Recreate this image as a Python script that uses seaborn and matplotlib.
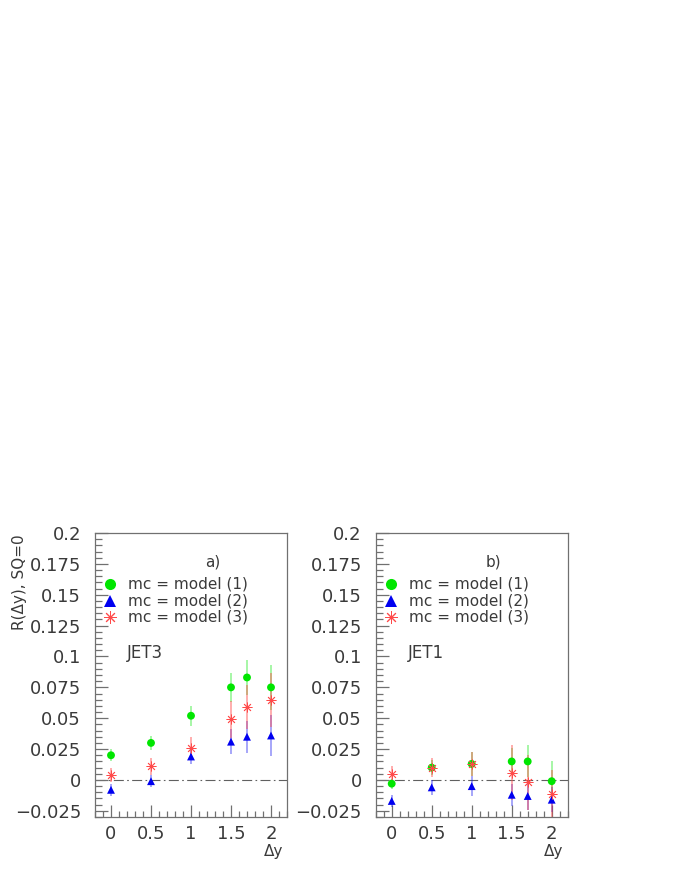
import numpy as np
import pandas as pd
import matplotlib
matplotlib.use('Agg')
import matplotlib.pyplot as plt
from matplotlib.ticker import FixedLocator, MultipleLocator
import seaborn as sns

# delta-y bins
dy = [0, 0.5, 1, 1.5, 1.7, 2]

# JET3 (panel a)
jet3_m1 = [0.020, 0.030, 0.052, 0.075, 0.083, 0.075]
jet3_m1_err = [0.005, 0.006, 0.008, 0.012, 0.014, 0.018]
jet3_m2 = [-0.008, -0.001, 0.019, 0.031, 0.035, 0.036]
jet3_m2_err = [0.005, 0.005, 0.006, 0.010, 0.013, 0.017]
jet3_m3 = [0.004, 0.011, 0.026, 0.049, 0.059, 0.065]
jet3_m3_err = [0.006, 0.007, 0.009, 0.015, 0.018, 0.022]

# JET1 (panel b)
jet1_m1 = [-0.003, 0.010, 0.013, 0.015, 0.015, -0.001]
jet1_m1_err = [0.004, 0.006, 0.010, 0.011, 0.013, 0.016]
jet1_m2 = [-0.017, -0.006, -0.005, -0.012, -0.013, -0.016]
jet1_m2_err = [0.005, 0.006, 0.008, 0.009, 0.011, 0.010]
jet1_m3 = [0.005, 0.010, 0.013, 0.006, -0.002, -0.011]
jet1_m3_err = [0.006, 0.008, 0.010, 0.022, 0.022, 0.019]

labels = ['mc = model (1)', 'mc = model (2)', 'mc = model (3)']
ytick_vals = [-0.025, 0, 0.025, 0.05, 0.075, 0.1, 0.125, 0.15, 0.175, 0.2]
ytick_labels = ['\u22120.025', '0', '0.025', '0.05', '0.075', '0.1', '0.125', '0.15', '0.175', '0.2']
xtick_vals = [0, 0.5, 1, 1.5, 2]
xtick_labels = ['0', '0.5', '1', '1.5', '2']

colors = ['#00e600', '#0000f0', '#ff4a4a']
markers = ['o', '^', (8, 2, 0)]
sizes = [32, 32, 44]
err_alpha = [0.35, 0.35, 0.45]
text_col = '#3a3a3a'


def make_frame(vals, errs):
    rows = []
    for lab, v, e in zip(labels, vals, errs):
        for x, y, err in zip(dy, v, e):
            rows.append({'dy': x, 'R': y, 'err': err, 'mc': lab})
    return pd.DataFrame(rows)


sns.set_theme(style='white')
plt.rcParams['font.family'] = ['DejaVu Sans']

fig = plt.figure(figsize=(6.81, 8.81), dpi=100)
W, H = 681., 881.
ax_a = fig.add_axes([95 / W, 1 - 817 / H, 192 / W, 284 / H])
ax_b = fig.add_axes([375.7 / W, 1 - 817 / H, 192 / W, 284 / H])

panels = [
    (ax_a, make_frame([jet3_m1, jet3_m2, jet3_m3], [jet3_m1_err, jet3_m2_err, jet3_m3_err]), 'a)', 'JET3'),
    (ax_b, make_frame([jet1_m1, jet1_m2, jet1_m3], [jet1_m1_err, jet1_m2_err, jet1_m3_err]), 'b)', 'JET1'),
]

for ax, df, tag, jet in panels:
    ax.axhline(0, color='#606060', lw=0.8, ls=(0, (9, 3, 1.5, 3)), zorder=0)
    for i, lab in enumerate(labels):
        sub = df[df['mc'] == lab]
        ax.errorbar(sub['dy'], sub['R'], yerr=sub['err'], fmt='none',
                    ecolor=colors[i], elinewidth=1.4, alpha=err_alpha[i], zorder=1)
    for i, lab in enumerate(labels):
        sub = df[df['mc'] == lab]
        if i == 2:
            sns.scatterplot(data=sub, x='dy', y='R', marker=markers[i], s=sizes[i],
                            color=colors[i], linewidth=0.6, legend=False, ax=ax, zorder=3)
        else:
            sns.scatterplot(data=sub, x='dy', y='R', marker=markers[i], s=sizes[i],
                            color=colors[i], edgecolor='none', legend=False, ax=ax, zorder=2)

    ax.set_xlim(-0.2, 2.2)
    ax.set_ylim(-0.03, 0.2)
    ax.yaxis.set_major_locator(FixedLocator(ytick_vals))
    ax.set_yticklabels(ytick_labels)
    ax.yaxis.set_minor_locator(MultipleLocator(0.005))
    ax.xaxis.set_major_locator(FixedLocator(xtick_vals))
    ax.set_xticklabels(xtick_labels)
    ax.xaxis.set_minor_locator(MultipleLocator(0.1))
    ax.tick_params(which='both', direction='in', color='#707070', width=0.9,
                   labelsize=13, labelcolor=text_col, left=True, bottom=True)
    ax.tick_params(axis='y', which='major', length=9, pad=10)
    ax.tick_params(axis='y', which='minor', length=5)
    ax.tick_params(axis='x', which='major', length=9, pad=6)
    ax.tick_params(axis='x', which='minor', length=4)
    for sp in ax.spines.values():
        sp.set_color('#707070')
        sp.set_linewidth(0.9)

    ax.set_xlabel('\u0394y', loc='right', fontsize=11, color=text_col)
    ax.xaxis.set_label_coords((283 - 95) / 192, -0.095)
    ax.set_ylabel('')

    # manual legend, ROOT style
    legend_y = [0.819, 0.762, 0.705]
    for i, lab in enumerate(labels):
        if i == 2:
            ax.plot([0.078], [legend_y[i]], transform=ax.transAxes, marker=markers[i],
                    ms=9, mew=0.7, color=colors[i], ls='none', clip_on=False)
        else:
            ax.plot([0.078], [legend_y[i]], transform=ax.transAxes, marker=markers[i],
                    ms=8, mew=0, color=colors[i], ls='none', clip_on=False)
        ax.text(0.172, legend_y[i], lab, transform=ax.transAxes, fontsize=11,
                va='center', ha='left', color=text_col)
    ax.text(0.615, 0.898, tag, transform=ax.transAxes, fontsize=11,
            va='center', ha='center', color=text_col)
    ax.text(0.165, 0.576, jet, transform=ax.transAxes, fontsize=12,
            va='center', ha='left', color=text_col)

fig.text(20 / W, 1 - 534 / H, 'R(\u0394y), SQ=0', rotation=90, fontsize=11,
         va='top', ha='center', color=text_col)

fig.savefig('out.png', dpi=100)
